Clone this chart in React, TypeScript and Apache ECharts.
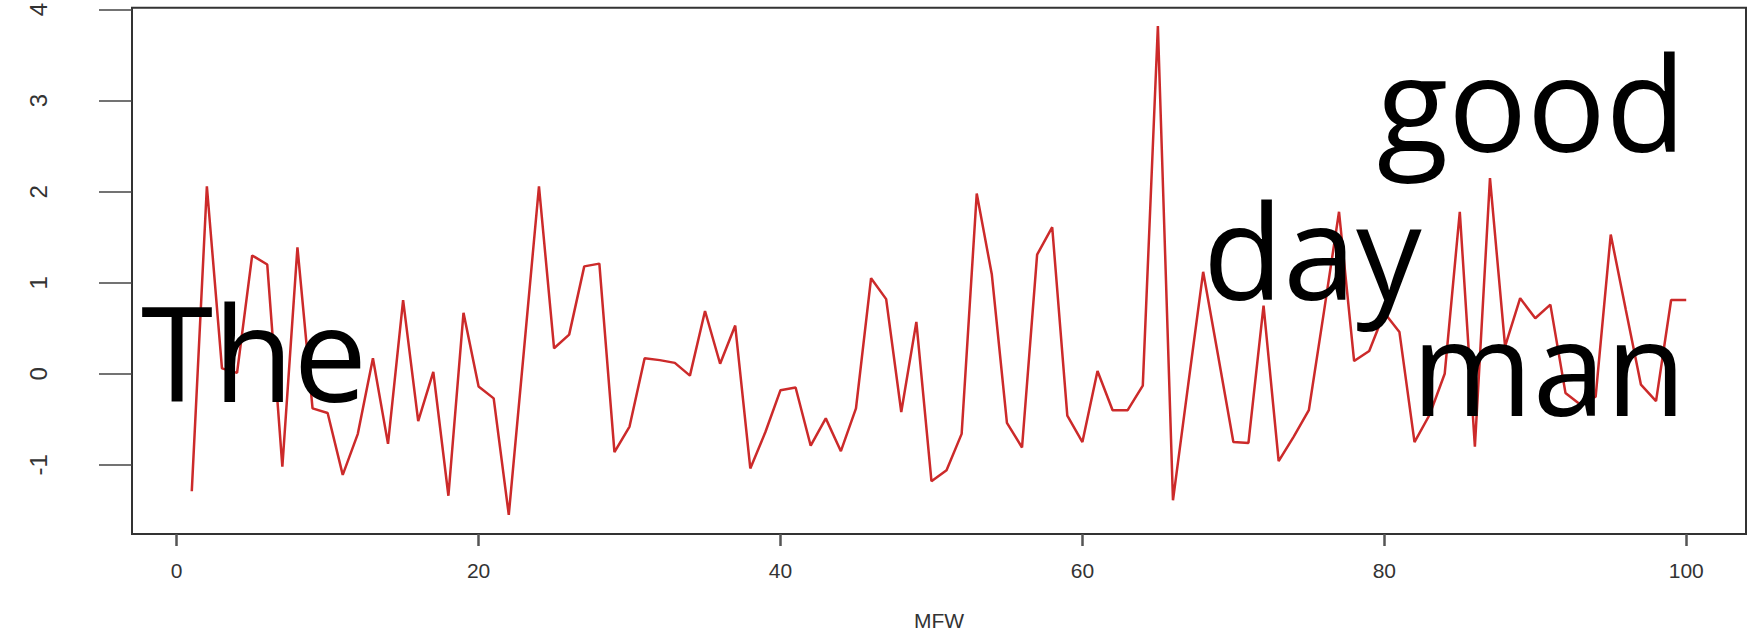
import React, { useEffect, useRef } from "react";
import * as echarts from "echarts";

// Values at MFW rank 1..100
const values: number[] = [
  -1.29, 2.06, 0.06, 0.01, 1.3, 1.2, -1.02, 1.39, -0.38, -0.43,
  -1.11, -0.66, 0.17, -0.77, 0.81, -0.52, 0.02, -1.34, 0.67, -0.14,
  -0.27, -1.55, 0.25, 2.06, 0.28, 0.43, 1.18, 1.21, -0.86, -0.58,
  0.17, 0.15, 0.12, -0.02, 0.69, 0.11, 0.53, -1.04, -0.64, -0.18,
  -0.15, -0.79, -0.49, -0.85, -0.38, 1.05, 0.82, -0.42, 0.57, -1.18,
  -1.06, -0.66, 1.98, 1.09, -0.54, -0.81, 1.31, 1.61, -0.46, -0.75,
  0.03, -0.4, -0.4, -0.13, 3.82, -1.39, -0.13, 1.12, 0.19, -0.75,
  -0.76, 0.75, -0.96, -0.69, -0.4, 0.68, 1.78, 0.14, 0.25, 0.67,
  0.46, -0.75, -0.45, 0.0, 1.78, -0.8, 2.15, 0.3, 0.83, 0.61,
  0.76, -0.21, -0.34, -0.25, 1.53, 0.7, -0.12, -0.3, 0.81, 0.81,
];

const xTicks: number[] = [0, 20, 40, 60, 80, 100];
const yTicks: number[] = [-1, 0, 1, 2, 3, 4];
const xName = "MFW";
const words = { the: "The", good: "good", day: "day", man: "man" };

export default function App() {
  const ref = useRef<HTMLDivElement>(null);

  useEffect(() => {
    if (!ref.current) return;
    const chart = echarts.init(ref.current, null, { renderer: "svg" });
    const data = values.map((v, i) => [i + 1, v]);
    const bigFont = {
      fontFamily: "Open Sans",
      fontSize: 131,
      fill: "#000",
    };
    chart.setOption({
      animation: false,
      backgroundColor: "#fff",
      grid: {
        left: 132,
        right: 9,
        top: 7,
        bottom: 100,
        show: true,
        borderColor: "#333",
        borderWidth: 2,
        backgroundColor: "transparent",
      },
      xAxis: {
        type: "value",
        min: -2.96,
        max: 103.96,
        position: "bottom",
        name: xName,
        nameLocation: "middle",
        nameGap: 76,
        nameTextStyle: {
          fontFamily: "Liberation Sans",
          fontSize: 21,
          color: "#333",
        },
        axisLine: { show: false, onZero: false },
        splitLine: { show: false },
        axisTick: {
          show: true,
          inside: false,
          length: 12,
          customValues: xTicks,
          lineStyle: { color: "#555", width: 2.5 },
        },
        axisLabel: {
          customValues: xTicks,
          margin: 26,
          fontFamily: "Liberation Sans",
          fontSize: 21,
          color: "#333",
        },
      },
      yAxis: {
        type: "value",
        min: -1.76,
        max: 4.02,
        position: "left",
        axisLine: { show: false, onZero: false },
        splitLine: { show: false },
        axisTick: {
          show: true,
          inside: false,
          length: 33,
          customValues: yTicks,
          lineStyle: { color: "#444", width: 1.5 },
        },
        axisLabel: {
          customValues: yTicks,
          rotate: 90,
          margin: 82,
          fontFamily: "Liberation Sans",
          fontSize: 24,
          color: "#333",
        },
      },
      series: [
        {
          type: "line",
          data,
          showSymbol: false,
          symbol: "none",
          lineStyle: { color: "#cc2a2a", width: 2.5 },
        },
      ],
      graphic: [
        {
          type: "text",
          x: 141,
          y: 351,
          style: { ...bigFont, text: words.the, align: "left", verticalAlign: "middle" },
          z: 100,
        },
        {
          type: "text",
          x: 1686,
          y: 101,
          style: { ...bigFont, text: words.good, align: "right", verticalAlign: "middle" },
          z: 100,
        },
        {
          type: "text",
          x: 1203,
          y: 249,
          style: { ...bigFont, text: words.day, align: "left", verticalAlign: "middle" },
          z: 100,
        },
        {
          type: "text",
          x: 1686,
          y: 365,
          style: { ...bigFont, text: words.man, align: "right", verticalAlign: "middle" },
          z: 100,
        },
      ],
    });
    return () => chart.dispose();
  }, []);

  return (
    <div
      ref={ref}
      style={{ position: "fixed", left: 0, top: 0, width: 1755, height: 636, background: "#fff" }}
    />
  );
}
